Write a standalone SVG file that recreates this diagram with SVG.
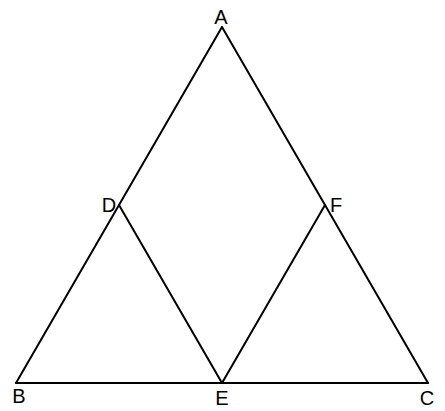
<svg xmlns="http://www.w3.org/2000/svg" width="445" height="411" viewBox="0 0 445 411">
<style>
.e{stroke:#000;stroke-width:2;fill:none;stroke-linecap:round}
.t{font-family:"Liberation Sans",Arial,sans-serif;font-size:20px;fill:#000;text-anchor:middle}
</style>
<rect width="445" height="411" fill="#fff"/>
<g id="connectors">
<line class="e" x1="222" y1="27" x2="16" y2="383"/>
<line class="e" x1="222" y1="27" x2="428" y2="383"/>
<line class="e" x1="16" y1="383" x2="428" y2="383"/>
<line class="e" x1="119" y1="205" x2="222" y2="383"/>
<line class="e" x1="325" y1="205" x2="222" y2="383"/>
</g>
<g id="A"><text class="t" x="221" y="24">A</text></g>
<g id="D"><text class="t" x="109" y="212">D</text></g>
<g id="F"><text class="t" x="336" y="212">F</text></g>
<g id="B"><text class="t" x="19" y="403">B</text></g>
<g id="E"><text class="t" x="222" y="405">E</text></g>
<g id="C"><text class="t" x="427" y="405">C</text></g>
</svg>
